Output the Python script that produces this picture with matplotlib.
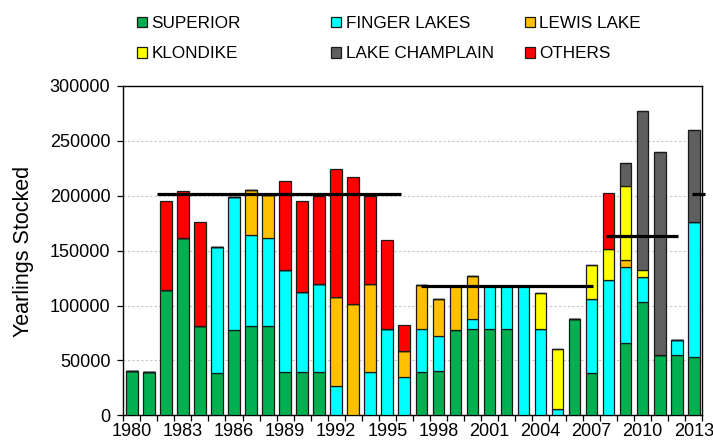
import matplotlib
matplotlib.use("Agg")
import matplotlib.pyplot as plt
from matplotlib.patches import Patch
from matplotlib.ticker import MultipleLocator, FixedLocator
import numpy as np

plt.rcParams['font.family'] = ['Liberation Sans', 'DejaVu Sans']

years = list(range(1980, 2014))

superior = [40000, 39000, 114000, 161500, 81000, 38500, 77500, 81000, 81000, 39000,
            39000, 39000, 0, 0, 0, 0, 0, 39000, 40500, 77500,
            79000, 79000, 79000, 0, 0, 0, 87500, 38500, 0, 65500,
            103000, 54500, 54500, 53000]
finger_lakes = [0, 0, 0, 0, 0, 115000, 121000, 83000, 80500, 93000,
                73000, 80500, 26700, 0, 39000, 79000, 35000, 40000, 32000, 0,
                8500, 38500, 38500, 117500, 79000, 5500, 0, 67000, 123000, 69500,
                23000, 0, 14500, 123500]
lewis_lake = [0, 0, 0, 0, 0, 0, 0, 41500, 39500, 0,
              0, 0, 81500, 101000, 80500, 0, 23500, 40000, 33500, 40000,
              39500, 0, 0, 0, 0, 0, 0, 0, 0, 6500,
              0, 0, 0, 0]
klondike = [0, 0, 0, 0, 0, 0, 0, 0, 0, 0,
            0, 0, 0, 0, 0, 0, 0, 0, 0, 0,
            0, 0, 0, 0, 32000, 54500, 0, 31000, 28500, 67000,
            6000, 0, 0, 0]
lake_champlain = [0, 0, 0, 0, 0, 0, 0, 0, 0, 0,
                  0, 0, 0, 0, 0, 0, 0, 0, 0, 0,
                  0, 0, 0, 0, 0, 0, 0, 0, 0, 21500,
                  145500, 185500, 0, 83000]
others = [0, 0, 81500, 42500, 95000, 0, 0, 0, 0, 81000,
          83000, 80500, 116000, 116000, 80500, 80500, 24000, 0, 0, 0,
          0, 0, 0, 0, 0, 0, 0, 0, 51000, 0,
          0, 0, 0, 0]

# average lines (start year, end year, value)
avg_start = [1981.45, 1997.0, 2007.85, 2012.9]
avg_end = [1995.8, 2007.1, 2012.1, 2013.65]
avg_value = [201500, 118000, 163300, 201500]

series = [
    ("SUPERIOR", superior, "#00B050"),
    ("FINGER LAKES", finger_lakes, "#00FFFF"),
    ("LEWIS LAKE", lewis_lake, "#FFC000"),
    ("KLONDIKE", klondike, "#FFFF00"),
    ("LAKE CHAMPLAIN", lake_champlain, "#5F5F5F"),
    ("OTHERS", others, "#FF0000"),
]

fig = plt.figure(figsize=(7.13, 4.40), dpi=100)
ax = fig.add_axes([123.3 / 713, 1 - 415.3 / 440, (702.3 - 123.3) / 713, (415.3 - 86) / 440])

x = np.array(years)
bottom = np.zeros(len(years))
handles = {}
for name, vals, col in series:
    v = np.array(vals, dtype=float)
    ax.bar(x, v, width=0.68, bottom=bottom, color=col, edgecolor="#1a1a1a",
           linewidth=0.9, zorder=3)
    handles[name] = Patch(facecolor=col, edgecolor="#1a1a1a", linewidth=0.9)
    bottom += v

for s, e, val in zip(avg_start, avg_end, avg_value):
    ax.plot([s, e], [val, val], color="black", linewidth=2.3, solid_capstyle="butt",
            zorder=5, clip_on=False)

ax.set_xlim(1979.5, 2013.5)
ax.set_ylim(0, 300000)
ax.yaxis.set_major_locator(MultipleLocator(50000))
ax.grid(axis="y", color="#C4C4C4", linestyle=(0, (2, 2)), linewidth=0.8, zorder=0)
ax.set_axisbelow(True)

ax.xaxis.set_major_locator(FixedLocator(years[::3]))
ax.set_xticklabels([str(y) for y in years[::3]])
ax.xaxis.set_minor_locator(FixedLocator(np.arange(1979.5, 2014.0, 1.0)))
ax.tick_params(axis="x", which="major", length=0, pad=5.5, labelsize=13)
ax.tick_params(axis="x", which="minor", length=4, width=0.9, direction="out")
ax.tick_params(axis="y", which="major", length=4.3, width=0.9, direction="out",
               pad=5, labelsize=13)

for sp in ax.spines.values():
    sp.set_linewidth(1.0)
    sp.set_color("black")

fig.text(24 / 713, 1 - 251 / 440, "Yearlings Stocked", rotation=90, ha="center",
         va="center", fontsize=15.5)

# legend in three columns
cols = [("SUPERIOR", "KLONDIKE"), ("FINGER LAKES", "LAKE CHAMPLAIN"), ("LEWIS LAKE", "OTHERS")]
col_x = [137, 331, 524.5]
for cx, names in zip(col_x, cols):
    fig.legend([handles[n] for n in names], list(names), loc="upper left",
               bbox_to_anchor=(cx / 713, 1 - 16 / 440), frameon=False, fontsize=12.3,
               handlelength=0.6, handleheight=0.6, handletextpad=0.25,
               labelspacing=0.9, borderpad=0, borderaxespad=0)

fig.savefig("out.png", dpi=100)
